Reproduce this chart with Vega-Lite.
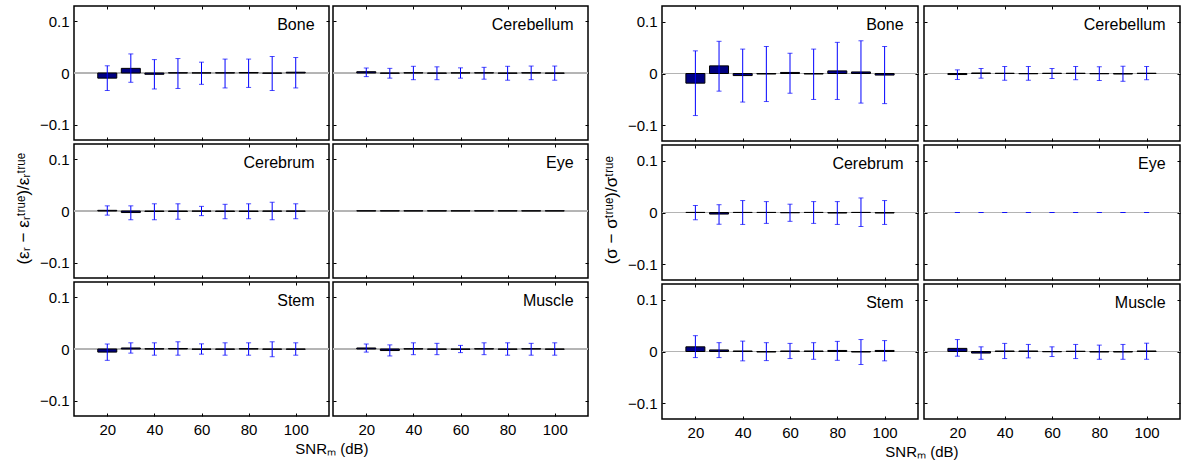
{
"$schema": "https://vega.github.io/schema/vega-lite/v6.json",
"background": "white",
"padding": {"left": 14, "top": 4, "right": 0, "bottom": 0},
"data": {"values": [
{"g":"e","t":"Bone","snr":20,"v":-0.010,"lo":-0.034,"hi":0.014},
{"g":"e","t":"Bone","snr":30,"v":0.009,"lo":-0.018,"hi":0.037},
{"g":"e","t":"Bone","snr":40,"v":-0.0025,"lo":-0.031,"hi":0.026},
{"g":"e","t":"Bone","snr":50,"v":0.0005,"lo":-0.030,"hi":0.028},
{"g":"e","t":"Bone","snr":60,"v":0.0003,"lo":-0.022,"hi":0.021},
{"g":"e","t":"Bone","snr":70,"v":0.0005,"lo":-0.029,"hi":0.027},
{"g":"e","t":"Bone","snr":80,"v":0.001,"lo":-0.028,"hi":0.027},
{"g":"e","t":"Bone","snr":90,"v":-0.0005,"lo":-0.034,"hi":0.032},
{"g":"e","t":"Bone","snr":100,"v":0.0015,"lo":-0.029,"hi":0.030},
{"g":"e","t":"Cerebellum","snr":20,"v":0.0025,"lo":-0.007,"hi":0.0097},
{"g":"e","t":"Cerebellum","snr":30,"v":-0.0005,"lo":-0.010,"hi":0.009},
{"g":"e","t":"Cerebellum","snr":40,"v":0.0005,"lo":-0.013,"hi":0.013},
{"g":"e","t":"Cerebellum","snr":50,"v":-0.0005,"lo":-0.013,"hi":0.012},
{"g":"e","t":"Cerebellum","snr":60,"v":0.0003,"lo":-0.010,"hi":0.010},
{"g":"e","t":"Cerebellum","snr":70,"v":0.0005,"lo":-0.012,"hi":0.011},
{"g":"e","t":"Cerebellum","snr":80,"v":-0.0005,"lo":-0.014,"hi":0.013},
{"g":"e","t":"Cerebellum","snr":90,"v":0.0005,"lo":-0.013,"hi":0.0135},
{"g":"e","t":"Cerebellum","snr":100,"v":-0.0005,"lo":-0.014,"hi":0.0135},
{"g":"e","t":"Cerebrum","snr":20,"v":0.0013,"lo":-0.008,"hi":0.010},
{"g":"e","t":"Cerebrum","snr":30,"v":-0.003,"lo":-0.017,"hi":0.010},
{"g":"e","t":"Cerebrum","snr":40,"v":-0.001,"lo":-0.017,"hi":0.014},
{"g":"e","t":"Cerebrum","snr":50,"v":-0.001,"lo":-0.016,"hi":0.014},
{"g":"e","t":"Cerebrum","snr":60,"v":-0.0005,"lo":-0.009,"hi":0.009},
{"g":"e","t":"Cerebrum","snr":70,"v":-0.001,"lo":-0.015,"hi":0.013},
{"g":"e","t":"Cerebrum","snr":80,"v":-0.001,"lo":-0.015,"hi":0.014},
{"g":"e","t":"Cerebrum","snr":90,"v":-0.0005,"lo":-0.017,"hi":0.017},
{"g":"e","t":"Cerebrum","snr":100,"v":-0.0005,"lo":-0.015,"hi":0.014},
{"g":"e","t":"Eye","snr":20,"v":0.0005,"lo":null,"hi":null},
{"g":"e","t":"Eye","snr":30,"v":0.0005,"lo":null,"hi":null},
{"g":"e","t":"Eye","snr":40,"v":0.0005,"lo":null,"hi":null},
{"g":"e","t":"Eye","snr":50,"v":0.0005,"lo":null,"hi":null},
{"g":"e","t":"Eye","snr":60,"v":0.0005,"lo":null,"hi":null},
{"g":"e","t":"Eye","snr":70,"v":0.0005,"lo":null,"hi":null},
{"g":"e","t":"Eye","snr":80,"v":0.0005,"lo":null,"hi":null},
{"g":"e","t":"Eye","snr":90,"v":0.0005,"lo":null,"hi":null},
{"g":"e","t":"Eye","snr":100,"v":0.0005,"lo":null,"hi":null},
{"g":"e","t":"Stem","snr":20,"v":-0.006,"lo":-0.022,"hi":0.0097},
{"g":"e","t":"Stem","snr":30,"v":0.002,"lo":-0.008,"hi":0.012},
{"g":"e","t":"Stem","snr":40,"v":0.0005,"lo":-0.012,"hi":0.012},
{"g":"e","t":"Stem","snr":50,"v":0.001,"lo":-0.012,"hi":0.014},
{"g":"e","t":"Stem","snr":60,"v":-0.0005,"lo":-0.010,"hi":0.010},
{"g":"e","t":"Stem","snr":70,"v":-0.0005,"lo":-0.012,"hi":0.012},
{"g":"e","t":"Stem","snr":80,"v":0.0005,"lo":-0.012,"hi":0.012},
{"g":"e","t":"Stem","snr":90,"v":-0.0005,"lo":-0.015,"hi":0.014},
{"g":"e","t":"Stem","snr":100,"v":-0.0005,"lo":-0.012,"hi":0.012},
{"g":"e","t":"Muscle","snr":20,"v":0.002,"lo":-0.006,"hi":0.0097},
{"g":"e","t":"Muscle","snr":30,"v":-0.003,"lo":-0.0135,"hi":0.008},
{"g":"e","t":"Muscle","snr":40,"v":0.0005,"lo":-0.011,"hi":0.012},
{"g":"e","t":"Muscle","snr":50,"v":-0.0005,"lo":-0.011,"hi":0.011},
{"g":"e","t":"Muscle","snr":60,"v":-0.0005,"lo":-0.007,"hi":0.007},
{"g":"e","t":"Muscle","snr":70,"v":0.0005,"lo":-0.011,"hi":0.012},
{"g":"e","t":"Muscle","snr":80,"v":-0.0005,"lo":-0.012,"hi":0.012},
{"g":"e","t":"Muscle","snr":90,"v":0.0005,"lo":-0.012,"hi":0.011},
{"g":"e","t":"Muscle","snr":100,"v":-0.0005,"lo":-0.012,"hi":0.012},
{"g":"s","t":"Bone","snr":20,"v":-0.0186,"lo":-0.081,"hi":0.0436},
{"g":"s","t":"Bone","snr":30,"v":0.0147,"lo":-0.034,"hi":0.062},
{"g":"s","t":"Bone","snr":40,"v":-0.004,"lo":-0.055,"hi":0.047},
{"g":"s","t":"Bone","snr":50,"v":-0.001,"lo":-0.054,"hi":0.052},
{"g":"s","t":"Bone","snr":60,"v":0.002,"lo":-0.038,"hi":0.039},
{"g":"s","t":"Bone","snr":70,"v":-0.001,"lo":-0.050,"hi":0.047},
{"g":"s","t":"Bone","snr":80,"v":0.005,"lo":-0.050,"hi":0.060},
{"g":"s","t":"Bone","snr":90,"v":0.003,"lo":-0.057,"hi":0.063},
{"g":"s","t":"Bone","snr":100,"v":-0.003,"lo":-0.058,"hi":0.052},
{"g":"s","t":"Cerebellum","snr":20,"v":-0.002,"lo":-0.0115,"hi":0.007},
{"g":"s","t":"Cerebellum","snr":30,"v":0.001,"lo":-0.009,"hi":0.0096},
{"g":"s","t":"Cerebellum","snr":40,"v":0.0005,"lo":-0.013,"hi":0.0135},
{"g":"s","t":"Cerebellum","snr":50,"v":-0.0005,"lo":-0.013,"hi":0.0135},
{"g":"s","t":"Cerebellum","snr":60,"v":0.0005,"lo":-0.0096,"hi":0.0096},
{"g":"s","t":"Cerebellum","snr":70,"v":0.0005,"lo":-0.012,"hi":0.0135},
{"g":"s","t":"Cerebellum","snr":80,"v":-0.0005,"lo":-0.0135,"hi":0.013},
{"g":"s","t":"Cerebellum","snr":90,"v":-0.001,"lo":-0.015,"hi":0.014},
{"g":"s","t":"Cerebellum","snr":100,"v":0.0005,"lo":-0.012,"hi":0.0135},
{"g":"s","t":"Cerebrum","snr":20,"v":0.0002,"lo":-0.014,"hi":0.0135},
{"g":"s","t":"Cerebrum","snr":30,"v":-0.003,"lo":-0.0226,"hi":0.015},
{"g":"s","t":"Cerebrum","snr":40,"v":0.0002,"lo":-0.023,"hi":0.023},
{"g":"s","t":"Cerebrum","snr":50,"v":0.0002,"lo":-0.021,"hi":0.021},
{"g":"s","t":"Cerebrum","snr":60,"v":-0.0005,"lo":-0.017,"hi":0.016},
{"g":"s","t":"Cerebrum","snr":70,"v":0.0002,"lo":-0.021,"hi":0.021},
{"g":"s","t":"Cerebrum","snr":80,"v":-0.001,"lo":-0.023,"hi":0.021},
{"g":"s","t":"Cerebrum","snr":90,"v":0.0002,"lo":-0.027,"hi":0.028},
{"g":"s","t":"Cerebrum","snr":100,"v":-0.001,"lo":-0.023,"hi":0.023},
{"g":"s","t":"Eye","snr":20,"v":null,"lo":0,"hi":0},
{"g":"s","t":"Eye","snr":30,"v":null,"lo":0,"hi":0},
{"g":"s","t":"Eye","snr":40,"v":null,"lo":0,"hi":0},
{"g":"s","t":"Eye","snr":50,"v":null,"lo":0,"hi":0},
{"g":"s","t":"Eye","snr":60,"v":null,"lo":0,"hi":0},
{"g":"s","t":"Eye","snr":70,"v":null,"lo":0,"hi":0},
{"g":"s","t":"Eye","snr":80,"v":null,"lo":0,"hi":0},
{"g":"s","t":"Eye","snr":90,"v":null,"lo":0,"hi":0},
{"g":"s","t":"Eye","snr":100,"v":null,"lo":0,"hi":0},
{"g":"s","t":"Stem","snr":20,"v":0.009,"lo":-0.0117,"hi":0.0305},
{"g":"s","t":"Stem","snr":30,"v":0.003,"lo":-0.0117,"hi":0.017},
{"g":"s","t":"Stem","snr":40,"v":0.001,"lo":-0.018,"hi":0.020},
{"g":"s","t":"Stem","snr":50,"v":-0.001,"lo":-0.0175,"hi":0.017},
{"g":"s","t":"Stem","snr":60,"v":0.001,"lo":-0.0136,"hi":0.0156},
{"g":"s","t":"Stem","snr":70,"v":0.001,"lo":-0.015,"hi":0.017},
{"g":"s","t":"Stem","snr":80,"v":0.002,"lo":-0.017,"hi":0.0195},
{"g":"s","t":"Stem","snr":90,"v":-0.001,"lo":-0.025,"hi":0.023},
{"g":"s","t":"Stem","snr":100,"v":0.002,"lo":-0.018,"hi":0.021},
{"g":"s","t":"Muscle","snr":20,"v":0.006,"lo":-0.009,"hi":0.023},
{"g":"s","t":"Muscle","snr":30,"v":-0.003,"lo":-0.015,"hi":0.009},
{"g":"s","t":"Muscle","snr":40,"v":0.001,"lo":-0.0136,"hi":0.0156},
{"g":"s","t":"Muscle","snr":50,"v":0.001,"lo":-0.0123,"hi":0.0136},
{"g":"s","t":"Muscle","snr":60,"v":-0.0005,"lo":-0.0097,"hi":0.009},
{"g":"s","t":"Muscle","snr":70,"v":0.0005,"lo":-0.0136,"hi":0.0136},
{"g":"s","t":"Muscle","snr":80,"v":-0.001,"lo":-0.015,"hi":0.0123},
{"g":"s","t":"Muscle","snr":90,"v":-0.001,"lo":-0.015,"hi":0.0136},
{"g":"s","t":"Muscle","snr":100,"v":0.001,"lo":-0.015,"hi":0.016}
]},
"spacing": 12,
"hconcat": [
{
"spacing": 0,
"title": {"text": "(εᵣ − εᵣᵗʳᵘᵉ)/εᵣᵗʳᵘᵉ", "orient": "left", "anchor": "middle", "dx": 22, "offset": 6, "fontSize": 17},
"vconcat": [
{"spacing": 0, "hconcat": [
{"width":255,"height":134,"transform":[{"filter":"datum.g==='e'&&datum.t==='Bone'"}],"layer":[
{"mark":{"type":"rule","color":"#b4b4b4","strokeWidth":1},"encoding":{"y":{"datum":0,"type":"quantitative","axis":null}}},
{"mark":{"type":"bar","size":19,"fill":"#000080","stroke":"#000000","strokeWidth":1},"encoding":{"x":{"field":"snr","type":"quantitative","scale":{"domain":[8,112],"nice":false},"axis":{"orient":"bottom","values":[20,40,60,80,100],"labels":false,"title":null}},"y":{"field":"v","type":"quantitative","scale":{"domain":[-0.13,0.13],"nice":false},"axis":{"orient":"left","values":[-0.1,0,0.1],"format":"~g","labels":true,"title":null}},"y2":{"datum":0}}},
{"mark":{"type":"errorbar","ticks":{"size":5},"color":"#0000ff"},"encoding":{"x":{"field":"snr","type":"quantitative","axis":{"orient":"top","values":[20,40,60,80,100],"labels":false,"title":null}},"y":{"field":"lo","type":"quantitative","axis":{"orient":"right","values":[-0.1,0,0.1],"labels":false,"title":null}},"y2":{"field":"hi"}}},
{"transform":[{"filter":"datum.snr===100"}],"mark":{"type":"text","align":"right","baseline":"alphabetic","font":"Liberation Sans","fontSize":16},"encoding":{"x":{"datum":108,"axis":null},"y":{"datum":0.084,"axis":null},"text":{"field":"t"}}}
],"resolve":{"axis":{"x":"independent","y":"independent"}}},
{"width":255,"height":134,"transform":[{"filter":"datum.g==='e'&&datum.t==='Cerebellum'"}],"layer":[
{"mark":{"type":"rule","color":"#b4b4b4","strokeWidth":1},"encoding":{"y":{"datum":0,"type":"quantitative","axis":null}}},
{"mark":{"type":"bar","size":19,"fill":"#000080","stroke":"#000000","strokeWidth":1},"encoding":{"x":{"field":"snr","type":"quantitative","scale":{"domain":[8,112],"nice":false},"axis":{"orient":"bottom","values":[20,40,60,80,100],"labels":false,"title":null}},"y":{"field":"v","type":"quantitative","scale":{"domain":[-0.13,0.13],"nice":false},"axis":{"orient":"left","values":[-0.1,0,0.1],"labels":false,"title":null}},"y2":{"datum":0}}},
{"mark":{"type":"errorbar","ticks":{"size":5},"color":"#0000ff"},"encoding":{"x":{"field":"snr","type":"quantitative","axis":{"orient":"top","values":[20,40,60,80,100],"labels":false,"title":null}},"y":{"field":"lo","type":"quantitative","axis":{"orient":"right","values":[-0.1,0,0.1],"labels":false,"title":null}},"y2":{"field":"hi"}}},
{"transform":[{"filter":"datum.snr===100"}],"mark":{"type":"text","align":"right","baseline":"alphabetic","font":"Liberation Sans","fontSize":16},"encoding":{"x":{"datum":108,"axis":null},"y":{"datum":0.084,"axis":null},"text":{"field":"t"}}}
],"resolve":{"axis":{"x":"independent","y":"independent"}}}
]},
{"spacing": 0, "hconcat": [
{"width":255,"height":134,"transform":[{"filter":"datum.g==='e'&&datum.t==='Cerebrum'"}],"layer":[
{"mark":{"type":"rule","color":"#b4b4b4","strokeWidth":1},"encoding":{"y":{"datum":0,"type":"quantitative","axis":null}}},
{"mark":{"type":"bar","size":19,"fill":"#000080","stroke":"#000000","strokeWidth":1},"encoding":{"x":{"field":"snr","type":"quantitative","scale":{"domain":[8,112],"nice":false},"axis":{"orient":"bottom","values":[20,40,60,80,100],"labels":false,"title":null}},"y":{"field":"v","type":"quantitative","scale":{"domain":[-0.13,0.13],"nice":false},"axis":{"orient":"left","values":[-0.1,0,0.1],"format":"~g","labels":true,"title":null}},"y2":{"datum":0}}},
{"mark":{"type":"errorbar","ticks":{"size":5},"color":"#0000ff"},"encoding":{"x":{"field":"snr","type":"quantitative","axis":{"orient":"top","values":[20,40,60,80,100],"labels":false,"title":null}},"y":{"field":"lo","type":"quantitative","axis":{"orient":"right","values":[-0.1,0,0.1],"labels":false,"title":null}},"y2":{"field":"hi"}}},
{"transform":[{"filter":"datum.snr===100"}],"mark":{"type":"text","align":"right","baseline":"alphabetic","font":"Liberation Sans","fontSize":16},"encoding":{"x":{"datum":108,"axis":null},"y":{"datum":0.084,"axis":null},"text":{"field":"t"}}}
],"resolve":{"axis":{"x":"independent","y":"independent"}}},
{"width":255,"height":134,"transform":[{"filter":"datum.g==='e'&&datum.t==='Eye'"}],"layer":[
{"mark":{"type":"rule","color":"#b4b4b4","strokeWidth":1},"encoding":{"y":{"datum":0,"type":"quantitative","axis":null}}},
{"mark":{"type":"bar","size":19,"fill":"#000080","stroke":"#000000","strokeWidth":1},"encoding":{"x":{"field":"snr","type":"quantitative","scale":{"domain":[8,112],"nice":false},"axis":{"orient":"bottom","values":[20,40,60,80,100],"labels":false,"title":null}},"y":{"field":"v","type":"quantitative","scale":{"domain":[-0.13,0.13],"nice":false},"axis":{"orient":"left","values":[-0.1,0,0.1],"labels":false,"title":null}},"y2":{"datum":0}}},
{"mark":{"type":"errorbar","ticks":{"size":5},"color":"#0000ff"},"encoding":{"x":{"field":"snr","type":"quantitative","axis":{"orient":"top","values":[20,40,60,80,100],"labels":false,"title":null}},"y":{"field":"lo","type":"quantitative","axis":{"orient":"right","values":[-0.1,0,0.1],"labels":false,"title":null}},"y2":{"field":"hi"}}},
{"transform":[{"filter":"datum.snr===100"}],"mark":{"type":"text","align":"right","baseline":"alphabetic","font":"Liberation Sans","fontSize":16},"encoding":{"x":{"datum":108,"axis":null},"y":{"datum":0.084,"axis":null},"text":{"field":"t"}}}
],"resolve":{"axis":{"x":"independent","y":"independent"}}}
]},
{"spacing": 0,
"title": {"text": "SNRₘ (dB)", "orient": "bottom", "anchor": "middle", "dx": 18, "offset": 4},
"hconcat": [
{"width":255,"height":134,"transform":[{"filter":"datum.g==='e'&&datum.t==='Stem'"}],"layer":[
{"mark":{"type":"rule","color":"#b4b4b4","strokeWidth":1},"encoding":{"y":{"datum":0,"type":"quantitative","axis":null}}},
{"mark":{"type":"bar","size":19,"fill":"#000080","stroke":"#000000","strokeWidth":1},"encoding":{"x":{"field":"snr","type":"quantitative","scale":{"domain":[8,112],"nice":false},"axis":{"orient":"bottom","values":[20,40,60,80,100],"labels":true,"title":null}},"y":{"field":"v","type":"quantitative","scale":{"domain":[-0.13,0.13],"nice":false},"axis":{"orient":"left","values":[-0.1,0,0.1],"format":"~g","labels":true,"title":null}},"y2":{"datum":0}}},
{"mark":{"type":"errorbar","ticks":{"size":5},"color":"#0000ff"},"encoding":{"x":{"field":"snr","type":"quantitative","axis":{"orient":"top","values":[20,40,60,80,100],"labels":false,"title":null}},"y":{"field":"lo","type":"quantitative","axis":{"orient":"right","values":[-0.1,0,0.1],"labels":false,"title":null}},"y2":{"field":"hi"}}},
{"transform":[{"filter":"datum.snr===100"}],"mark":{"type":"text","align":"right","baseline":"alphabetic","font":"Liberation Sans","fontSize":16},"encoding":{"x":{"datum":108,"axis":null},"y":{"datum":0.084,"axis":null},"text":{"field":"t"}}}
],"resolve":{"axis":{"x":"independent","y":"independent"}}},
{"width":255,"height":134,"transform":[{"filter":"datum.g==='e'&&datum.t==='Muscle'"}],"layer":[
{"mark":{"type":"rule","color":"#b4b4b4","strokeWidth":1},"encoding":{"y":{"datum":0,"type":"quantitative","axis":null}}},
{"mark":{"type":"bar","size":19,"fill":"#000080","stroke":"#000000","strokeWidth":1},"encoding":{"x":{"field":"snr","type":"quantitative","scale":{"domain":[8,112],"nice":false},"axis":{"orient":"bottom","values":[20,40,60,80,100],"labels":true,"title":null}},"y":{"field":"v","type":"quantitative","scale":{"domain":[-0.13,0.13],"nice":false},"axis":{"orient":"left","values":[-0.1,0,0.1],"labels":false,"title":null}},"y2":{"datum":0}}},
{"mark":{"type":"errorbar","ticks":{"size":5},"color":"#0000ff"},"encoding":{"x":{"field":"snr","type":"quantitative","axis":{"orient":"top","values":[20,40,60,80,100],"labels":false,"title":null}},"y":{"field":"lo","type":"quantitative","axis":{"orient":"right","values":[-0.1,0,0.1],"labels":false,"title":null}},"y2":{"field":"hi"}}},
{"transform":[{"filter":"datum.snr===100"}],"mark":{"type":"text","align":"right","baseline":"alphabetic","font":"Liberation Sans","fontSize":16},"encoding":{"x":{"datum":108,"axis":null},"y":{"datum":0.084,"axis":null},"text":{"field":"t"}}}
],"resolve":{"axis":{"x":"independent","y":"independent"}}}
]}
]
},
{
"spacing": 0,
"title": {"text": "(σ − σᵗʳᵘᵉ)/σᵗʳᵘᵉ", "orient": "left", "anchor": "middle", "dx": 22, "offset": 6, "fontSize": 17},
"vconcat": [
{"spacing": 2, "hconcat": [
{"width":256,"height":135,"transform":[{"filter":"datum.g==='s'&&datum.t==='Bone'"}],"layer":[
{"mark":{"type":"rule","color":"#b4b4b4","strokeWidth":1},"encoding":{"y":{"datum":0,"type":"quantitative","axis":null}}},
{"mark":{"type":"bar","size":19,"fill":"#000080","stroke":"#000000","strokeWidth":1},"encoding":{"x":{"field":"snr","type":"quantitative","scale":{"domain":[8,112],"nice":false},"axis":{"orient":"bottom","values":[20,40,60,80,100],"labels":false,"title":null}},"y":{"field":"v","type":"quantitative","scale":{"domain":[-0.13,0.13],"nice":false},"axis":{"orient":"left","values":[-0.1,0,0.1],"format":"~g","labels":true,"title":null}},"y2":{"datum":0}}},
{"mark":{"type":"errorbar","ticks":{"size":5},"color":"#0000ff"},"encoding":{"x":{"field":"snr","type":"quantitative","axis":{"orient":"top","values":[20,40,60,80,100],"labels":false,"title":null}},"y":{"field":"lo","type":"quantitative","axis":{"orient":"right","values":[-0.1,0,0.1],"labels":false,"title":null}},"y2":{"field":"hi"}}},
{"transform":[{"filter":"datum.snr===100"}],"mark":{"type":"text","align":"right","baseline":"alphabetic","font":"Liberation Sans","fontSize":16},"encoding":{"x":{"datum":108,"axis":null},"y":{"datum":0.084,"axis":null},"text":{"field":"t"}}}
],"resolve":{"axis":{"x":"independent","y":"independent"}}},
{"width":256,"height":135,"transform":[{"filter":"datum.g==='s'&&datum.t==='Cerebellum'"}],"layer":[
{"mark":{"type":"rule","color":"#b4b4b4","strokeWidth":1},"encoding":{"y":{"datum":0,"type":"quantitative","axis":null}}},
{"mark":{"type":"bar","size":19,"fill":"#000080","stroke":"#000000","strokeWidth":1},"encoding":{"x":{"field":"snr","type":"quantitative","scale":{"domain":[8,112],"nice":false},"axis":{"orient":"bottom","values":[20,40,60,80,100],"labels":false,"title":null}},"y":{"field":"v","type":"quantitative","scale":{"domain":[-0.13,0.13],"nice":false},"axis":{"orient":"left","values":[-0.1,0,0.1],"labels":false,"title":null}},"y2":{"datum":0}}},
{"mark":{"type":"errorbar","ticks":{"size":5},"color":"#0000ff"},"encoding":{"x":{"field":"snr","type":"quantitative","axis":{"orient":"top","values":[20,40,60,80,100],"labels":false,"title":null}},"y":{"field":"lo","type":"quantitative","axis":{"orient":"right","values":[-0.1,0,0.1],"labels":false,"title":null}},"y2":{"field":"hi"}}},
{"transform":[{"filter":"datum.snr===100"}],"mark":{"type":"text","align":"right","baseline":"alphabetic","font":"Liberation Sans","fontSize":16},"encoding":{"x":{"datum":108,"axis":null},"y":{"datum":0.084,"axis":null},"text":{"field":"t"}}}
],"resolve":{"axis":{"x":"independent","y":"independent"}}}
]},
{"spacing": 2, "hconcat": [
{"width":256,"height":135,"transform":[{"filter":"datum.g==='s'&&datum.t==='Cerebrum'"}],"layer":[
{"mark":{"type":"rule","color":"#b4b4b4","strokeWidth":1},"encoding":{"y":{"datum":0,"type":"quantitative","axis":null}}},
{"mark":{"type":"bar","size":19,"fill":"#000080","stroke":"#000000","strokeWidth":1},"encoding":{"x":{"field":"snr","type":"quantitative","scale":{"domain":[8,112],"nice":false},"axis":{"orient":"bottom","values":[20,40,60,80,100],"labels":false,"title":null}},"y":{"field":"v","type":"quantitative","scale":{"domain":[-0.13,0.13],"nice":false},"axis":{"orient":"left","values":[-0.1,0,0.1],"format":"~g","labels":true,"title":null}},"y2":{"datum":0}}},
{"mark":{"type":"errorbar","ticks":{"size":5},"color":"#0000ff"},"encoding":{"x":{"field":"snr","type":"quantitative","axis":{"orient":"top","values":[20,40,60,80,100],"labels":false,"title":null}},"y":{"field":"lo","type":"quantitative","axis":{"orient":"right","values":[-0.1,0,0.1],"labels":false,"title":null}},"y2":{"field":"hi"}}},
{"transform":[{"filter":"datum.snr===100"}],"mark":{"type":"text","align":"right","baseline":"alphabetic","font":"Liberation Sans","fontSize":16},"encoding":{"x":{"datum":108,"axis":null},"y":{"datum":0.084,"axis":null},"text":{"field":"t"}}}
],"resolve":{"axis":{"x":"independent","y":"independent"}}},
{"width":256,"height":135,"transform":[{"filter":"datum.g==='s'&&datum.t==='Eye'"}],"layer":[
{"mark":{"type":"rule","color":"#b4b4b4","strokeWidth":1},"encoding":{"y":{"datum":0,"type":"quantitative","axis":null}}},
{"mark":{"type":"bar","size":19,"fill":"#000080","stroke":"#000000","strokeWidth":1},"encoding":{"x":{"field":"snr","type":"quantitative","scale":{"domain":[8,112],"nice":false},"axis":{"orient":"bottom","values":[20,40,60,80,100],"labels":false,"title":null}},"y":{"field":"v","type":"quantitative","scale":{"domain":[-0.13,0.13],"nice":false},"axis":{"orient":"left","values":[-0.1,0,0.1],"labels":false,"title":null}},"y2":{"datum":0}}},
{"mark":{"type":"errorbar","ticks":{"size":5},"color":"#0000ff"},"encoding":{"x":{"field":"snr","type":"quantitative","axis":{"orient":"top","values":[20,40,60,80,100],"labels":false,"title":null}},"y":{"field":"lo","type":"quantitative","axis":{"orient":"right","values":[-0.1,0,0.1],"labels":false,"title":null}},"y2":{"field":"hi"}}},
{"transform":[{"filter":"datum.snr===100"}],"mark":{"type":"text","align":"right","baseline":"alphabetic","font":"Liberation Sans","fontSize":16},"encoding":{"x":{"datum":108,"axis":null},"y":{"datum":0.084,"axis":null},"text":{"field":"t"}}}
],"resolve":{"axis":{"x":"independent","y":"independent"}}}
]},
{"spacing": 2,
"title": {"text": "SNRₘ (dB)", "orient": "bottom", "anchor": "middle", "dx": 18, "offset": 4},
"hconcat": [
{"width":256,"height":135,"transform":[{"filter":"datum.g==='s'&&datum.t==='Stem'"}],"layer":[
{"mark":{"type":"rule","color":"#b4b4b4","strokeWidth":1},"encoding":{"y":{"datum":0,"type":"quantitative","axis":null}}},
{"mark":{"type":"bar","size":19,"fill":"#000080","stroke":"#000000","strokeWidth":1},"encoding":{"x":{"field":"snr","type":"quantitative","scale":{"domain":[8,112],"nice":false},"axis":{"orient":"bottom","values":[20,40,60,80,100],"labels":true,"title":null}},"y":{"field":"v","type":"quantitative","scale":{"domain":[-0.13,0.13],"nice":false},"axis":{"orient":"left","values":[-0.1,0,0.1],"format":"~g","labels":true,"title":null}},"y2":{"datum":0}}},
{"mark":{"type":"errorbar","ticks":{"size":5},"color":"#0000ff"},"encoding":{"x":{"field":"snr","type":"quantitative","axis":{"orient":"top","values":[20,40,60,80,100],"labels":false,"title":null}},"y":{"field":"lo","type":"quantitative","axis":{"orient":"right","values":[-0.1,0,0.1],"labels":false,"title":null}},"y2":{"field":"hi"}}},
{"transform":[{"filter":"datum.snr===100"}],"mark":{"type":"text","align":"right","baseline":"alphabetic","font":"Liberation Sans","fontSize":16},"encoding":{"x":{"datum":108,"axis":null},"y":{"datum":0.084,"axis":null},"text":{"field":"t"}}}
],"resolve":{"axis":{"x":"independent","y":"independent"}}},
{"width":256,"height":135,"transform":[{"filter":"datum.g==='s'&&datum.t==='Muscle'"}],"layer":[
{"mark":{"type":"rule","color":"#b4b4b4","strokeWidth":1},"encoding":{"y":{"datum":0,"type":"quantitative","axis":null}}},
{"mark":{"type":"bar","size":19,"fill":"#000080","stroke":"#000000","strokeWidth":1},"encoding":{"x":{"field":"snr","type":"quantitative","scale":{"domain":[8,112],"nice":false},"axis":{"orient":"bottom","values":[20,40,60,80,100],"labels":true,"title":null}},"y":{"field":"v","type":"quantitative","scale":{"domain":[-0.13,0.13],"nice":false},"axis":{"orient":"left","values":[-0.1,0,0.1],"labels":false,"title":null}},"y2":{"datum":0}}},
{"mark":{"type":"errorbar","ticks":{"size":5},"color":"#0000ff"},"encoding":{"x":{"field":"snr","type":"quantitative","axis":{"orient":"top","values":[20,40,60,80,100],"labels":false,"title":null}},"y":{"field":"lo","type":"quantitative","axis":{"orient":"right","values":[-0.1,0,0.1],"labels":false,"title":null}},"y2":{"field":"hi"}}},
{"transform":[{"filter":"datum.snr===100"}],"mark":{"type":"text","align":"right","baseline":"alphabetic","font":"Liberation Sans","fontSize":16},"encoding":{"x":{"datum":108,"axis":null},"y":{"datum":0.084,"axis":null},"text":{"field":"t"}}}
],"resolve":{"axis":{"x":"independent","y":"independent"}}}
]}
]
}
],
"config": {
"font": "Liberation Sans",
"view": {"stroke": "#000000", "strokeWidth": 1.5},
"axis": {"grid": false, "domain": false, "tickSize": -3, "tickColor": "#000000", "tickWidth": 1, "labelFont": "Liberation Sans", "labelFontSize": 15, "labelColor": "#000000"},
"axisX": {"labelPadding": 9},
"axisY": {"labelPadding": 8},
"title": {"font": "Liberation Sans", "fontSize": 15, "fontWeight": "normal", "color": "#000000"}
}
}
